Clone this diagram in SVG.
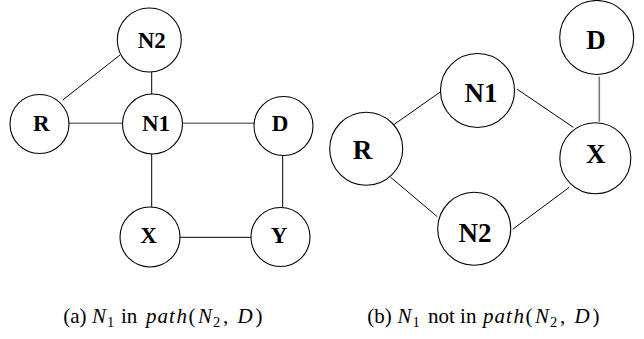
<svg xmlns="http://www.w3.org/2000/svg" width="644" height="339" viewBox="0 0 644 339">
<style>
.n{fill:#fff;stroke:#000;stroke-width:1.1}
.t{font-family:"Liberation Serif","Times New Roman",serif;font-weight:bold;text-anchor:middle;fill:#000}
.l{font-size:23px}
.r{font-size:27px}
.e{stroke:#000;stroke-width:1;fill:none}
.g{stroke:#777;stroke-width:1.6;fill:none}
.c{font-family:"Liberation Serif","Times New Roman",serif;font-size:21px;fill:#000}
.i{font-style:italic}
.s{font-size:14.5px}
</style>
<rect width="644" height="339" fill="#fff"/>
<g id="connectors">
<line class="e" x1="120" y1="55" x2="62.7" y2="100"/>
<line class="e" x1="151.7" y1="70" x2="151.7" y2="94"/>
<line class="g" x1="69" y1="123.3" x2="122.7" y2="123.3"/>
<line class="g" x1="182.5" y1="123.3" x2="254" y2="123.3"/>
<line class="e" x1="151.7" y1="154" x2="151.7" y2="207"/>
<line class="e" x1="282.7" y1="156" x2="282.7" y2="207"/>
<line class="e" x1="180" y1="237.3" x2="250.7" y2="237.3"/>
<line class="e" x1="393.3" y1="125" x2="440.7" y2="91.7"/>
<line class="e" x1="517.3" y1="89.3" x2="573.3" y2="127.3"/>
<line class="g" x1="599.3" y1="76.7" x2="599.3" y2="121.7"/>
<line class="e" x1="390.7" y1="177.3" x2="437.3" y2="216.7"/>
<line class="e" x1="512.7" y1="229.3" x2="569.3" y2="187.3"/>
</g>
<g id="a-N2"><circle class="n" cx="149.3" cy="40" r="32"/><text class="t l" x="151.7" y="48.3">N2</text></g>
<g id="a-R"><circle class="n" cx="39.5" cy="124" r="29.5"/><text class="t l" x="41.3" y="131">R</text></g>
<g id="a-N1"><circle class="n" cx="152.5" cy="124" r="30"/><text class="t l" x="156" y="131">N1</text></g>
<g id="a-D"><circle class="n" cx="283.5" cy="126" r="29.5"/><text class="t l" x="280" y="131">D</text></g>
<g id="a-X"><circle class="n" cx="150" cy="237" r="30"/><text class="t l" x="148.5" y="243.3">X</text></g>
<g id="a-Y"><circle class="n" cx="280.5" cy="237" r="29.5"/><text class="t l" x="279" y="243.3">Y</text></g>
<g id="b-D"><circle class="n" cx="596.7" cy="37.5" r="37"/><text class="t r" x="596" y="49.3">D</text></g>
<g id="b-N1"><circle class="n" cx="477.5" cy="90.5" r="37"/><text class="t r" x="481" y="101.5">N1</text></g>
<g id="b-R"><circle class="n" cx="366.2" cy="148.8" r="36.5"/><text class="t r" x="362.5" y="159.3">R</text></g>
<g id="b-X"><circle class="n" cx="595.3" cy="158.3" r="35.5"/><text class="t r" x="595.8" y="163.3">X</text></g>
<g id="b-N2"><circle class="n" cx="474.2" cy="228.8" r="36.5"/><text class="t r" x="475" y="241.7">N2</text></g>
<text class="c" y="323"><tspan x="63.3">(a)</tspan><tspan class="i" x="92">N</tspan><tspan class="s" x="107" dy="4">1</tspan><tspan x="121" dy="-4">in</tspan><tspan class="i" x="146 157.5 169 176.5">path</tspan><tspan x="188.5">(</tspan><tspan class="i" x="198">N</tspan><tspan class="s" x="213" dy="4">2</tspan><tspan x="223" dy="-4">,</tspan><tspan class="i" x="237.5">D</tspan><tspan x="255.5">)</tspan></text>
<text class="c" y="323"><tspan x="367.3">(b)</tspan><tspan class="i" x="397.5">N</tspan><tspan class="s" x="412.5" dy="4">1</tspan><tspan x="428" dy="-4">not in</tspan><tspan class="i" x="483 494.5 506 513.5">path</tspan><tspan x="525.5">(</tspan><tspan class="i" x="535">N</tspan><tspan class="s" x="550" dy="4">2</tspan><tspan x="560" dy="-4">,</tspan><tspan class="i" x="574.5">D</tspan><tspan x="592.5">)</tspan></text>
</svg>
